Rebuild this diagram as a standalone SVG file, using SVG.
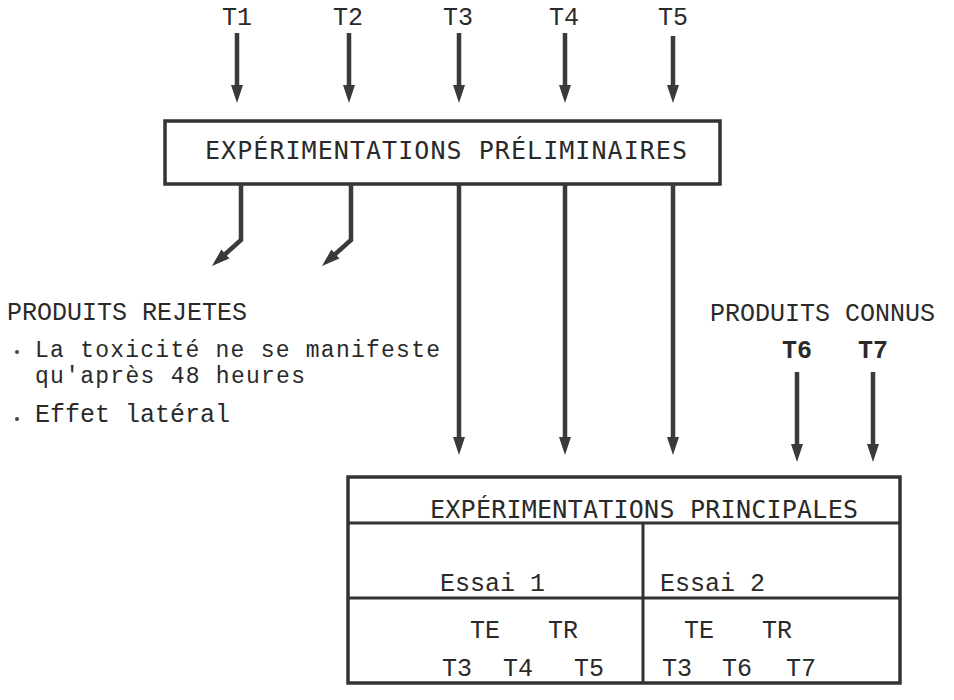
<svg xmlns="http://www.w3.org/2000/svg" width="954" height="700" viewBox="0 0 954 700">
<style>
.tw{font-family:"Liberation Mono","Courier New",monospace;font-size:25px;fill:#2a2a2a}
.tn{font-family:"Liberation Mono","Courier New",monospace;font-size:23px;fill:#2a2a2a}
.tb{font-family:"Liberation Mono","Courier New",monospace;font-size:25px;font-weight:bold;fill:#2a2a2a}
.sm{font-family:"DejaVu Sans Mono","Liberation Mono",monospace;font-size:25px;fill:#2a2a2a}
.box{fill:#fff;stroke:#333;stroke-width:3.5}
.ln{stroke:#333;stroke-width:3;fill:none}
.arr{stroke:#3a3a3a;stroke-width:4.5;fill:none;marker-end:url(#ah)}
</style>
<defs>
<marker id="ah" markerUnits="userSpaceOnUse" markerWidth="18" markerHeight="12" refX="6" refY="6" orient="auto" overflow="visible">
<path d="M0,0 L18,6 L0,12 Z" fill="#3a3a3a"/>
</marker>
</defs>
<rect width="954" height="700" fill="#fff"/>

<g id="inputs-top">
<text class="tw" x="237" y="25" text-anchor="middle">T1</text>
<text class="tw" x="348" y="25" text-anchor="middle">T2</text>
<text class="tw" x="458" y="25" text-anchor="middle">T3</text>
<text class="tw" x="564" y="25" text-anchor="middle">T4</text>
<text class="tw" x="673" y="25" text-anchor="middle">T5</text>
</g>

<g id="prelim">
<rect class="box" x="165" y="121" width="555" height="63"/>
<text class="sm" x="205" y="159" textLength="482" lengthAdjust="spacing">EXPÉRIMENTATIONS PRÉLIMINAIRES</text>
</g>

<g id="rejetes">
<text class="tw" x="7" y="320">PRODUITS REJETES</text>
<circle cx="17" cy="352" r="2" fill="#444"/>
<text class="tn" x="35" y="357" textLength="405" lengthAdjust="spacing">La toxicité ne se manifeste</text>
<text class="tn" x="35" y="383" textLength="270" lengthAdjust="spacing">qu'après 48 heures</text>
<circle cx="17" cy="419" r="2" fill="#444"/>
<text class="tw" x="35" y="422">Effet latéral</text>
</g>

<g id="connus">
<text class="tw" x="710" y="321">PRODUITS CONNUS</text>
<text class="tb" x="797" y="358" text-anchor="middle">T6</text>
<text class="tb" x="873" y="358" text-anchor="middle">T7</text>
</g>

<g id="principal">
<rect class="box" x="348" y="477" width="552" height="206"/>
<line class="ln" x1="348" y1="523" x2="900" y2="523"/>
<line class="ln" x1="348" y1="598" x2="900" y2="598"/>
<line class="ln" x1="643" y1="523" x2="643" y2="683"/>
<text class="sm" x="430" y="518" textLength="428" lengthAdjust="spacing">EXPÉRIMENTATIONS PRINCIPALES</text>
<text class="tw" x="440" y="591">Essai 1</text>
<text class="tw" x="660" y="591">Essai 2</text>
<text class="tw" x="470" y="638">TE</text>
<text class="tw" x="548" y="638">TR</text>
<text class="tw" x="442" y="676">T3</text>
<text class="tw" x="503" y="676">T4</text>
<text class="tw" x="574" y="676">T5</text>
<text class="tw" x="684" y="638">TE</text>
<text class="tw" x="762" y="638">TR</text>
<text class="tw" x="662" y="676">T3</text>
<text class="tw" x="722" y="676">T6</text>
<text class="tw" x="786" y="676">T7</text>
</g>

<g id="connectors">
<line class="arr" x1="237" y1="33" x2="237" y2="91"/>
<line class="arr" x1="349" y1="33" x2="349" y2="91"/>
<line class="arr" x1="459" y1="33" x2="459" y2="91"/>
<line class="arr" x1="565" y1="33" x2="565" y2="91"/>
<line class="arr" x1="673" y1="36" x2="673" y2="91"/>
<polyline class="arr" points="241,184 241,240 220.9,258"/>
<polyline class="arr" points="351,184 351,240 330.9,258"/>
<line class="arr" x1="459" y1="184" x2="459" y2="443"/>
<line class="arr" x1="565" y1="184" x2="565" y2="443"/>
<line class="arr" x1="673" y1="184" x2="673" y2="443"/>
<line class="arr" x1="797" y1="372" x2="797" y2="450"/>
<line class="arr" x1="873" y1="372" x2="873" y2="450"/>
</g>
</svg>
